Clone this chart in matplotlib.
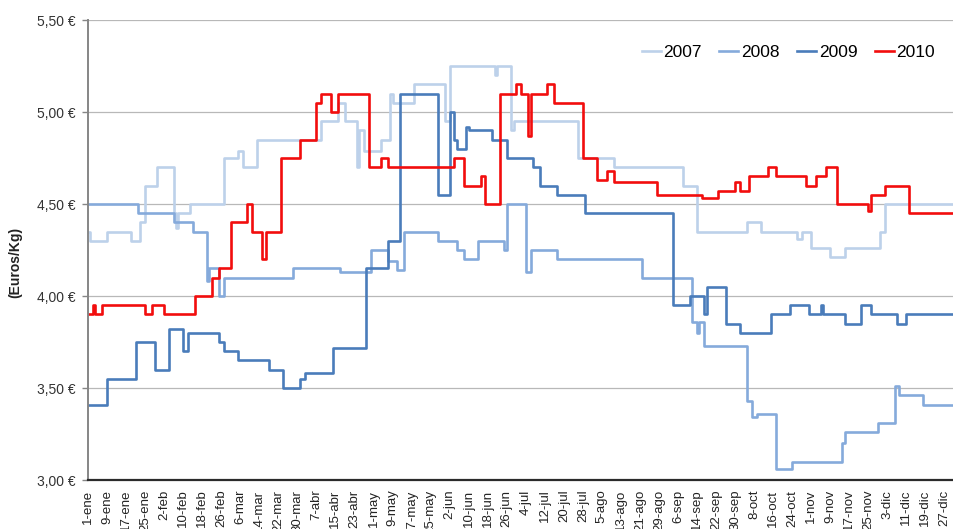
import matplotlib
matplotlib.use('Agg')
from matplotlib import pyplot as plt

plt.rcParams['font.family'] = ['Liberation Sans', 'DejaVu Sans']

# day of year (0 = 1-ene) where the price changes, and the price from that day on
days_2007 = [0, 1, 8, 18, 22, 24, 29, 36, 37, 38, 43, 57, 63, 65, 71, 98, 105, 108, 113, 114,
             116, 123, 127, 128, 137, 150, 152, 171, 172, 178, 179, 206, 221, 250, 256, 277,
             283, 298, 300, 304, 312, 318, 333, 335, 364]
price_2007 = [4.35, 4.30, 4.35, 4.30, 4.40, 4.60, 4.70, 4.45, 4.37, 4.45, 4.50, 4.75, 4.79, 4.70,
              4.85, 4.95, 5.05, 4.95, 4.70, 4.90, 4.79, 4.85, 5.10, 5.05, 5.15, 4.95, 5.25, 5.20,
              5.25, 4.90, 4.95, 4.75, 4.70, 4.60, 4.35, 4.40, 4.35, 4.31, 4.35, 4.26, 4.21, 4.26,
              4.35, 4.50, 4.50]

days_2008 = [0, 21, 36, 44, 50, 51, 55, 57, 86, 106, 119, 126, 130, 133, 147, 155, 158, 164,
             175, 176, 184, 186, 197, 233, 254, 256, 257, 259, 277, 279, 281, 289, 296, 317,
             318, 332, 339, 341, 351, 364]
price_2008 = [4.50, 4.45, 4.40, 4.35, 4.08, 4.15, 4.00, 4.10, 4.15, 4.13, 4.25, 4.19, 4.14, 4.35,
              4.30, 4.25, 4.20, 4.30, 4.25, 4.50, 4.13, 4.25, 4.20, 4.10, 3.86, 3.80, 3.86, 3.73,
              3.43, 3.34, 3.36, 3.06, 3.10, 3.20, 3.26, 3.31, 3.51, 3.46, 3.41, 3.41]

days_2009 = [0, 8, 20, 28, 34, 40, 42, 55, 57, 63, 76, 82, 89, 91, 103, 117, 126, 131, 147,
             152, 154, 155, 159, 160, 170, 176, 187, 190, 197, 209, 246, 253, 259, 260, 268,
             274, 287, 295, 303, 308, 309, 318, 325, 329, 340, 344, 364]
price_2009 = [3.41, 3.55, 3.75, 3.60, 3.82, 3.70, 3.80, 3.75, 3.70, 3.65, 3.60, 3.50, 3.55, 3.58,
              3.72, 4.15, 4.30, 5.10, 4.55, 5.00, 4.85, 4.80, 4.92, 4.90, 4.85, 4.75, 4.70, 4.60,
              4.55, 4.45, 3.95, 4.00, 3.90, 4.05, 3.85, 3.80, 3.90, 3.95, 3.90, 3.95, 3.90, 3.85,
              3.95, 3.90, 3.85, 3.90, 3.90]

days_2010 = [0, 2, 3, 6, 24, 27, 32, 45, 52, 55, 60, 67, 69, 73, 75, 81, 89, 96, 98, 102,
             105, 118, 123, 126, 154, 158, 165, 167, 173, 180, 182, 185, 186, 193, 196, 208,
             214, 218, 221, 239, 258, 265, 272, 274, 278, 286, 289, 302, 306, 310, 315, 328,
             329, 335, 345, 364]
price_2010 = [3.90, 3.95, 3.90, 3.95, 3.90, 3.95, 3.90, 4.00, 4.10, 4.15, 4.40, 4.50, 4.35, 4.20,
              4.35, 4.75, 4.85, 5.05, 5.10, 5.00, 5.10, 4.70, 4.75, 4.70, 4.75, 4.60, 4.65, 4.50,
              5.10, 5.15, 5.10, 4.87, 5.10, 5.15, 5.05, 4.75, 4.63, 4.68, 4.62, 4.55, 4.53, 4.57,
              4.62, 4.57, 4.65, 4.70, 4.65, 4.60, 4.65, 4.70, 4.50, 4.46, 4.55, 4.60, 4.45, 4.45]

years = ['2007', '2008', '2009', '2010']
colors = ['#BDD1EA', '#85AADB', '#4A7CBA', '#F20D0D']

tick_days = list(range(0, 361, 8))
tick_labels = ['1-ene', '9-ene', '17-ene', '25-ene', '2-feb', '10-feb', '18-feb', '26-feb',
               '6-mar', '14-mar', '22-mar', '30-mar', '7-abr', '15-abr', '23-abr', '1-may',
               '9-may', '17-may', '25-may', '2-jun', '10-jun', '18-jun', '26-jun', '4-jul',
               '12-jul', '20-jul', '28-jul', '5-ago', '13-ago', '21-ago', '29-ago', '6-sep',
               '14-sep', '22-sep', '30-sep', '8-oct', '16-oct', '24-oct', '1-nov', '9-nov',
               '17-nov', '25-nov', '3-dic', '11-dic', '19-dic', '27-dic']
y_ticks = [3.0, 3.5, 4.0, 4.5, 5.0, 5.5]
y_labels = ['3,00 €', '3,50 €', '4,00 €', '4,50 €', '5,00 €', '5,50 €']

fig = plt.figure(figsize=(9.54, 5.29), dpi=100)
ax = fig.add_axes([88 / 954, 49 / 529, 866 / 954, 460 / 529])

series = [(days_2007, price_2007), (days_2008, price_2008),
          (days_2009, price_2009), (days_2010, price_2010)]
for (d, p), name, col in zip(series, years, colors):
    ax.plot(d, p, drawstyle='steps-post', color=col, linewidth=1.9, label=name,
            solid_joinstyle='round')

ax.set_xlim(0, 364)
ax.set_ylim(3.0, 5.5)
ax.set_yticks(y_ticks)
ax.set_yticklabels(y_labels, fontsize=10, color='#333333')
ax.set_xticks(tick_days)
ax.set_xticklabels(tick_labels, rotation=90, fontsize=9.5, va='top', ha='center', color='#222222')
ax.tick_params(axis='x', length=0, pad=7)
ax.tick_params(axis='y', length=4, width=1, color='#868686', pad=5)

ax.grid(axis='y', color='#B8B8B8', linewidth=0.9)
ax.set_axisbelow(True)
for side in ['top', 'right']:
    ax.spines[side].set_visible(False)
ax.spines['left'].set_color('#868686')
ax.spines['left'].set_linewidth(1.4)
ax.spines['bottom'].set_color('#2B2B2B')
ax.spines['bottom'].set_linewidth(1.6)

fig.text(15 / 954, 1 - 262 / 529, '(Euros/Kg)', rotation=90, ha='center', va='center',
         fontsize=10, fontweight='bold', color='#222222')

ax.legend(loc='center right', bbox_to_anchor=(0.978, 0.93), ncol=4, frameon=False,
          fontsize=12.5, handlelength=1.1, handletextpad=0.15, columnspacing=1.0,
          borderaxespad=0, borderpad=0)

fig.savefig('out.png', dpi=100)
